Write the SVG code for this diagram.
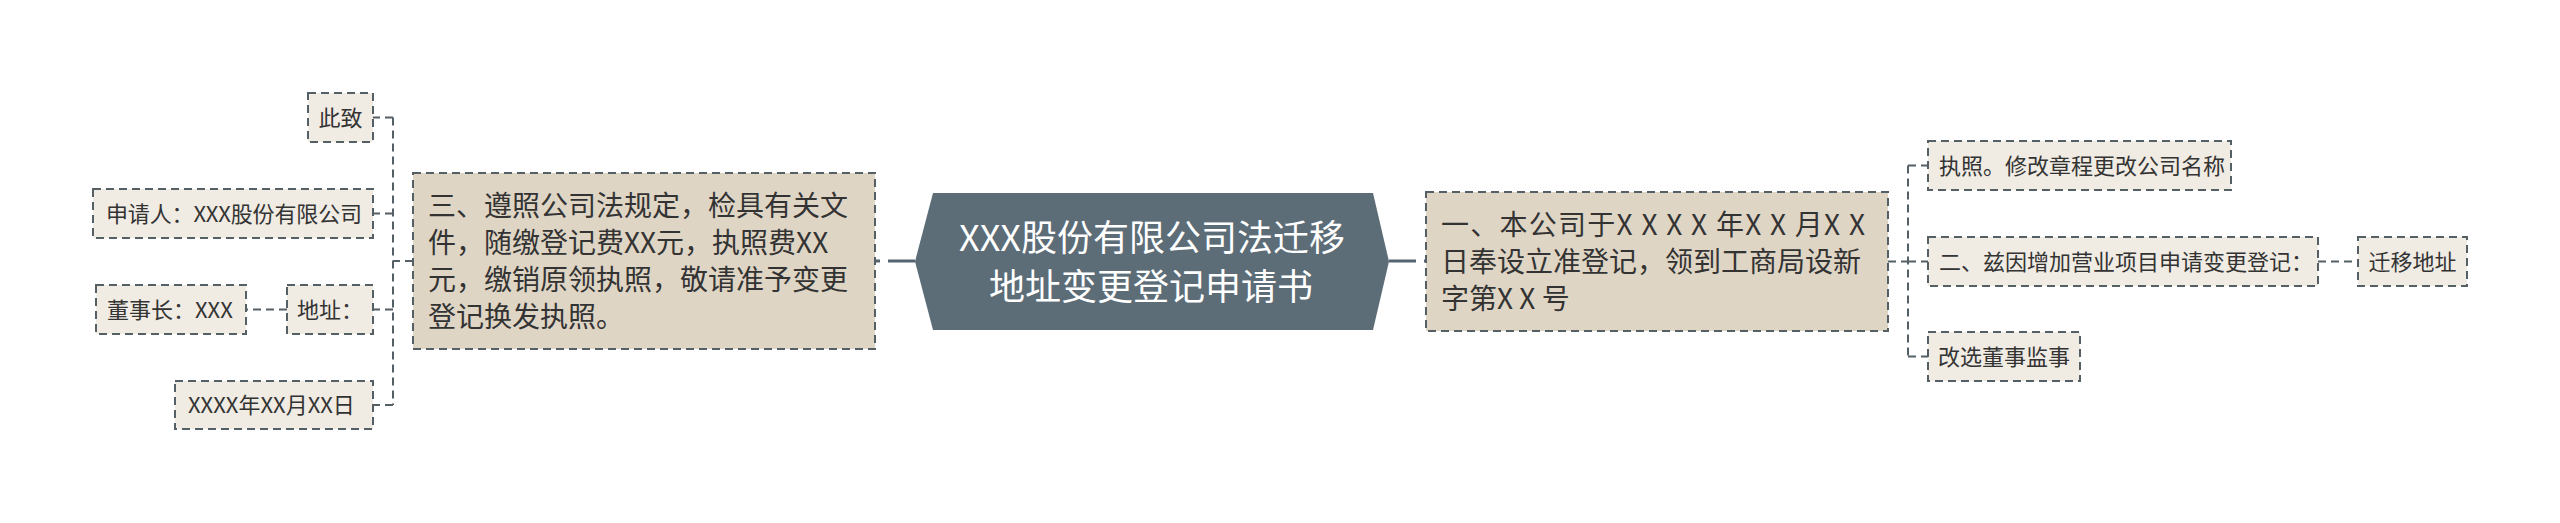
<svg xmlns="http://www.w3.org/2000/svg" width="2560" height="523" viewBox="0 0 2560 523">
<style>
.leaf{fill:#f0ebe3;stroke:#555f66;stroke-width:2;stroke-dasharray:8 5}
.lvl1{fill:#dfd5c5;stroke:#555f66;stroke-width:2;stroke-dasharray:8 5}
.t{font-family:"Noto Sans CJK SC","Noto Sans",sans-serif;fill:#333333}
.ts{font-size:22px}
.tm{font-size:28px}
.tc{font-family:"Noto Sans CJK SC","Noto Sans",sans-serif;font-size:36px;fill:#ffffff;text-anchor:middle}
.c{fill:none;stroke:#555f66;stroke-width:2;stroke-dasharray:8 5}
.cm{fill:none;stroke:#556570;stroke-width:3;stroke-dasharray:27 8}
</style>
<rect width="2560" height="523" fill="#ffffff"/>
<g id="connectors">
<path class="cm" d="M915 261 L875 261"/>
<path class="cm" d="M1389 261 L1426 261"/>
<path class="c" d="M413 261 L393 261"/>
<path class="c" d="M393 117.5 L393 405"/>
<path class="c" d="M393 117.5 L373 117.5"/>
<path class="c" d="M393 213.5 L373 213.5"/>
<path class="c" d="M393 309.5 L373 309.5"/>
<path class="c" d="M393 405 L373 405"/>
<path class="c" d="M287 309.5 L246 309.5"/>
<path class="c" d="M1888 261.5 L1908 261.5"/>
<path class="c" d="M1908 165.5 L1908 356.5"/>
<path class="c" d="M1908 165.5 L1928 165.5"/>
<path class="c" d="M1908 261.5 L1928 261.5"/>
<path class="c" d="M1908 356.5 L1928 356.5"/>
<path class="c" d="M2318 261.5 L2358 261.5"/>
</g>
<g id="center">
<polygon points="933,193 1373,193 1389,261.5 1373,330 933,330 915,261.5" fill="#5c6d78"/>
<text class="tc" x="1152" y="251">XXX股份有限公司法迁移</text>
<text class="tc" x="1151" y="300">地址变更登记申请书</text>
</g>
<g id="node-san">
<rect class="lvl1" x="413" y="173" width="462" height="176"/>
<text class="t tm" x="428" y="216">三、遵照公司法规定，检具有关文</text>
<text class="t tm" x="428" y="253">件，随缴登记费XX元，执照费XX</text>
<text class="t tm" x="428" y="290">元，缴销原领执照，敬请准予变更</text>
<text class="t tm" x="428" y="327">登记换发执照。</text>
</g>
<g id="node-cizhi">
<rect class="leaf" x="308" y="93" width="65" height="49"/>
<text class="t ts" x="318.5" y="126">此致</text>
</g>
<g id="node-shenqingren">
<rect class="leaf" x="93" y="189" width="280" height="49"/>
<text class="t ts" x="106" y="222" textLength="256" lengthAdjust="spacing">申请人：XXX股份有限公司</text>
</g>
<g id="node-dizhi">
<rect class="leaf" x="287" y="285" width="86" height="49"/>
<text class="t ts" x="297" y="318">地址：</text>
</g>
<g id="node-dongshizhang">
<rect class="leaf" x="96" y="285" width="150" height="49"/>
<text class="t ts" x="107" y="318">董事长：XXX</text>
</g>
<g id="node-date">
<rect class="leaf" x="175" y="381" width="198" height="48"/>
<text class="t ts" x="188" y="413">XXXX年XX月XX日</text>
</g>
<g id="node-yi">
<rect class="lvl1" x="1426" y="192" width="462" height="139"/>
<text class="t tm" x="1441" y="235" textLength="424" lengthAdjust="spacing">一、本公司于X X X X 年X X 月X X</text>
<text class="t tm" x="1441" y="272">日奉设立准登记，领到工商局设新</text>
<text class="t tm" x="1441" y="309">字第X X 号</text>
</g>
<g id="node-zhizhao">
<rect class="leaf" x="1928" y="141" width="303" height="49"/>
<text class="t ts" x="1939" y="174">执照。修改章程更改公司名称</text>
</g>
<g id="node-er">
<rect class="leaf" x="1928" y="237" width="390" height="49"/>
<text class="t ts" x="1939" y="270">二、兹因增加营业项目申请变更登记：</text>
</g>
<g id="node-qianyi">
<rect class="leaf" x="2358" y="237" width="109" height="49"/>
<text class="t ts" x="2368.5" y="270">迁移地址</text>
</g>
<g id="node-gaixuan">
<rect class="leaf" x="1928" y="332" width="152" height="49"/>
<text class="t ts" x="1938" y="365">改选董事监事</text>
</g>
</svg>
